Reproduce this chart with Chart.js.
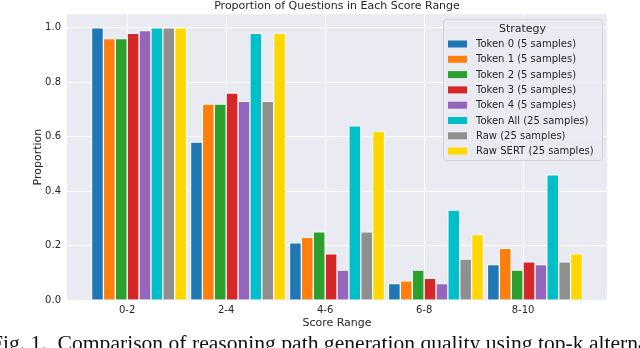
<!DOCTYPE html>
<html>
<head>
<meta charset="utf-8">
<script src="https://cdn.jsdelivr.net/npm/chart.js@4.4.1/dist/chart.umd.min.js"></script>
<style>
    html, body { margin: 0; padding: 0; background: #fff; }
    body { width: 640px; height: 348px; overflow: hidden; position: relative; }
    #wrap { position: absolute; left: 0; top: 0; width: 640px; height: 348px; }
    #caption {
        position: absolute; left: -9px; top: 331px; white-space: nowrap;
        font-family: "Liberation Serif", "DejaVu Serif", serif; font-size: 21.6px; color: #111;
    }
</style>
</head>
<body>
<div id="wrap"><canvas id="bar-chart" width="640" height="348"></canvas></div>
<div id="caption">Fig. 1.&nbsp;&nbsp;Comparison of reasoning path generation quality using top-k alternatives</div>
<script>
// 分数区间
const categories = ['0-2', '2-4', '4-6', '6-8', '8-10'];

// 策略名称
const strategies = [
    'Token 0 (5 samples)',
    'Token 1 (5 samples)',
    'Token 2 (5 samples)',
    'Token 3 (5 samples)',
    'Token 4 (5 samples)',
    'Token All (25 samples)',
    'Raw (25 samples)',
    'Raw SERT (25 samples)'
];

// 各策略在各区间的比例
const token0 = [1.00, 0.58, 0.21, 0.06, 0.13];
const token1 = [0.96, 0.72, 0.23, 0.07, 0.19];
const token2 = [0.96, 0.72, 0.25, 0.11, 0.11];
const token3 = [0.98, 0.76, 0.17, 0.08, 0.14];
const token4 = [0.99, 0.73, 0.11, 0.06, 0.13];
const tokenAll = [1.00, 0.98, 0.64, 0.33, 0.46];
const raw = [1.00, 0.73, 0.25, 0.15, 0.14];
const rawSert = [1.00, 0.98, 0.62, 0.24, 0.17];

// y轴刻度
const yTicks = [0.0, 0.2, 0.4, 0.6, 0.8, 1.0];

const seriesValues = [token0, token1, token2, token3, token4, tokenAll, raw, rawSert];
const colors = ['#1f77b4', '#ff7f0e', '#2ca02c', '#d62728', '#9467bd', '#00bfc8', '#8f8f8f', '#ffd700'];

const textColor = '#262626';
const barWidth = 0.12; // 每根柱子在x轴上的宽度（类别单位）
const xMin = -0.608, xMax = 4.848;

// 数据集
const datasets = strategies.map((name, j) => ({
    label: name,
    data: seriesValues[j].map((v, i) => ({ x: i + (j - 2.5) * barWidth, y: v })),
    backgroundColor: colors[j],
    borderColor: '#ffffff',
    borderWidth: 1,
    barThickness: 11.9,
    grouped: false
}));

// 绘图区背景
const plotBackground = {
    id: 'plotBackground',
    beforeDraw(chart) {
        const { ctx, chartArea: a } = chart;
        ctx.save();
        ctx.fillStyle = '#eaeaf2';
        ctx.fillRect(a.left, a.top, a.right - a.left, a.bottom - a.top);
        ctx.restore();
    }
};

// 图内图例
const innerLegend = {
    id: 'innerLegend',
    afterDraw(chart) {
        const { ctx } = chart;
        const x0 = 443, y0 = 19, w = 159, h = 141;
        ctx.save();
        ctx.beginPath();
        ctx.roundRect(x0 + 0.5, y0 + 0.5, w, h, 3);
        ctx.fillStyle = 'rgba(234, 234, 242, 0.8)';
        ctx.fill();
        ctx.strokeStyle = 'rgba(204, 204, 204, 0.8)';
        ctx.lineWidth = 1;
        ctx.stroke();

        ctx.fillStyle = textColor;
        ctx.textBaseline = 'middle';
        ctx.textAlign = 'center';
        ctx.font = '11px "DejaVu Sans"';
        ctx.fillText('Strategy', x0 + w / 2, 29);

        ctx.textAlign = 'left';
        ctx.font = '10px "DejaVu Sans"';
        chart.data.datasets.forEach((ds, k) => {
            const yc = 44 + k * 15.3;
            ctx.fillStyle = ds.backgroundColor;
            ctx.fillRect(448, yc - 3.5, 19, 7);
            ctx.fillStyle = textColor;
            ctx.fillText(ds.label, 476, yc + 0.5);
        });
        ctx.restore();
    }
};

new Chart(document.getElementById('bar-chart'), {
    type: 'bar',
    data: { datasets: datasets },
    options: {
        responsive: false,
        animation: false,
        layout: { padding: { top: 0, right: 33, left: 0, bottom: 0 } },
        scales: {
            x: {
                type: 'linear',
                offset: false,
                min: xMin,
                max: xMax,
                afterBuildTicks: s => { s.ticks = categories.map((c, i) => ({ value: i })); },
                afterFit: s => { s.height = 48; },
                ticks: {
                    callback: v => categories[v],
                    color: textColor,
                    font: { family: 'DejaVu Sans', size: 10 },
                    padding: 4,
                    maxRotation: 0
                },
                grid: { color: '#ffffff', lineWidth: 1, drawTicks: false, offset: false },
                border: { display: false },
                title: {
                    display: true,
                    text: 'Score Range',
                    color: textColor,
                    font: { family: 'DejaVu Sans', size: 11 },
                    padding: { top: 0, bottom: 18 }
                }
            },
            y: {
                min: 0,
                max: 1.05,
                afterBuildTicks: s => { s.ticks = yTicks.map(v => ({ value: v })); },
                afterFit: s => { s.width = 67; },
                ticks: {
                    callback: v => v.toFixed(1),
                    color: textColor,
                    font: { family: 'DejaVu Sans', size: 10 },
                    padding: 6
                },
                grid: { color: '#ffffff', lineWidth: 1, drawTicks: false },
                border: { display: false },
                title: {
                    display: true,
                    text: 'Proportion',
                    color: textColor,
                    font: { family: 'DejaVu Sans', size: 11 },
                    padding: { top: 32, bottom: 0 }
                }
            }
        },
        plugins: {
            legend: { display: false },
            tooltip: { enabled: false },
            title: {
                display: true,
                fullSize: false,
                text: 'Proportion of Questions in Each Score Range',
                color: textColor,
                font: { family: 'DejaVu Sans', size: 11, weight: 'normal' },
                padding: { top: 0, bottom: 1 }
            }
        }
    },
    plugins: [plotBackground, innerLegend]
});
</script>
</body>
</html>
